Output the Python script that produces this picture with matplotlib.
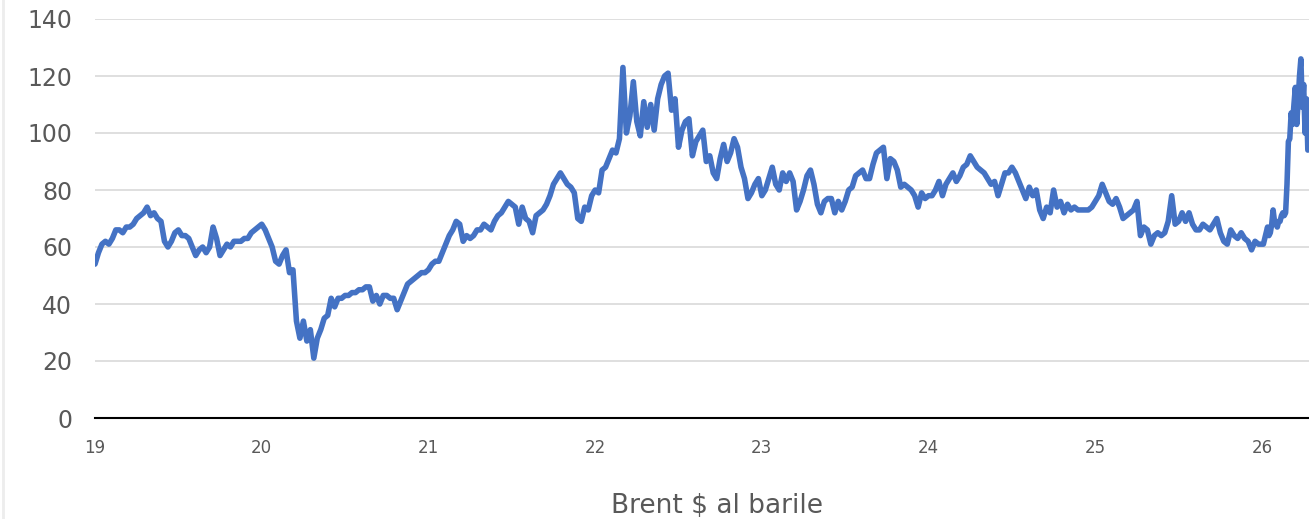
import matplotlib
matplotlib.use("Agg")
import matplotlib.pyplot as plt
from matplotlib.lines import Line2D

# Brent, $ per barrel. Four readings per month (Jan..Dec) for each full year
years = [19, 20, 21, 22, 23, 24, 25]
brent_2019 = [54, 58, 61, 62, 61, 63, 66, 66, 65, 67, 67, 68,
              70, 71, 72, 74, 71, 72, 70, 69, 62, 60, 62, 65,
              66, 64, 64, 63, 60, 57, 59, 60, 58, 60, 67, 63,
              57, 59, 61, 60, 62, 62, 62, 63, 63, 65, 66, 67]
brent_2020 = [68, 66, 63, 60, 55, 54, 57, 59, 51, 52, 34, 28,
              34, 27, 31, 21, 28, 31, 35, 36, 42, 39, 42, 42,
              43, 43, 44, 44, 45, 45, 46, 46, 41, 43, 40, 43,
              43, 42, 42, 38, 41, 44, 47, 48, 49, 50, 51, 51]
brent_2021 = [52, 54, 55, 55, 58, 61, 64, 66, 69, 68, 62, 64,
              63, 64, 66, 66, 68, 67, 66, 69, 71, 72, 74, 76,
              75, 74, 68, 74, 70, 69, 65, 71, 72, 73, 75, 78,
              82, 84, 86, 84, 82, 81, 79, 70, 69, 74, 73, 78]
brent_2022 = [80, 79, 87, 88, 91, 94, 93, 98, 123, 100, 106, 118,
              104, 99, 111, 102, 110, 101, 112, 117, 120, 121, 108, 112,
              95, 101, 104, 105, 92, 97, 99, 101, 90, 92, 86, 84,
              91, 96, 90, 93, 98, 95, 88, 84, 77, 79, 82, 84]
brent_2023 = [78, 80, 84, 88, 82, 80, 86, 83, 86, 83, 73, 76,
              80, 85, 87, 82, 75, 72, 76, 77, 77, 72, 76, 73,
              76, 80, 81, 85, 86, 87, 84, 84, 89, 93, 94, 95,
              84, 91, 90, 87, 81, 82, 81, 80, 78, 74, 79, 77]
brent_2024 = [78, 78, 80, 83, 78, 82, 84, 86, 83, 85, 88, 89,
              92, 90, 88, 87, 86, 84, 82, 83, 78, 82, 86, 86,
              88, 86, 83, 80, 77, 81, 78, 80, 73, 70, 74, 72,
              80, 74, 76, 72, 75, 73, 74, 73, 73, 73, 73, 74]
brent_2025 = [76, 78, 82, 79, 76, 75, 77, 74, 70, 71, 72, 73,
              76, 64, 67, 66, 61, 64, 65, 64, 65, 69, 78, 68,
              69, 72, 69, 72, 68, 66, 66, 68, 67, 66, 68, 70,
              65, 62, 61, 66, 64, 63, 65, 63, 62, 59, 62, 61]
# 2026: one reading every 1/120 of a year
brent_2026 = [61, 61, 63, 65, 67, 64, 65, 68, 73, 69, 68, 67,
              69, 69, 71, 72, 71, 72, 82, 97, 98, 107, 103, 110,
              116, 103, 111, 120, 126, 109, 117, 100, 112, 94]
step_2026 = 1 / 120

x_ticks = [19, 20, 21, 22, 23, 24, 25, 26]
y_ticks = [0, 20, 40, 60, 80, 100, 120, 140]
title = "Brent $ al barile"

series = [brent_2019, brent_2020, brent_2021, brent_2022,
          brent_2023, brent_2024, brent_2025]
xs, ys = [], []
for yr, vals in zip(years, series):
    n = len(vals)
    xs += [yr + i / n for i in range(n)]
    ys += vals
xs += [26 + i * step_2026 for i in range(len(brent_2026))]
ys += brent_2026

fig = plt.figure(figsize=(13.09, 5.19), dpi=100)
ax = fig.add_axes([95 / 1309, 101 / 519, 1214 / 1309, 399 / 519])
ax.plot(xs, ys, color="#4472C4", lw=4.0,
        solid_joinstyle="round", solid_capstyle="round")

ax.set_xlim(19, 26.282)
ax.set_ylim(0, 140)
ax.set_xticks(x_ticks)
ax.set_yticks(y_ticks)
ax.grid(axis="y", color="#D9D9D9", lw=1.2)
ax.grid(axis="x", visible=False)
ax.set_axisbelow(True)
for s in ["top", "right", "left"]:
    ax.spines[s].set_visible(False)
ax.spines["bottom"].set_color("black")
ax.spines["bottom"].set_linewidth(1.5)
ax.tick_params(length=0)
ax.tick_params(axis="y", labelsize=17, labelcolor="#595959", pad=16.5)
ax.tick_params(axis="x", labelsize=12, labelcolor="#595959", pad=15)

fig.text(717 / 1309, 1 - 506 / 519, title, ha="center", va="center",
         fontsize=19, color="#595959")
# faint frame edge on the left
fig.add_artist(Line2D([2.5 / 1309, 2.5 / 1309], [0, 1], color="#EDEDED", lw=2))

fig.savefig("out.png", dpi=100)
